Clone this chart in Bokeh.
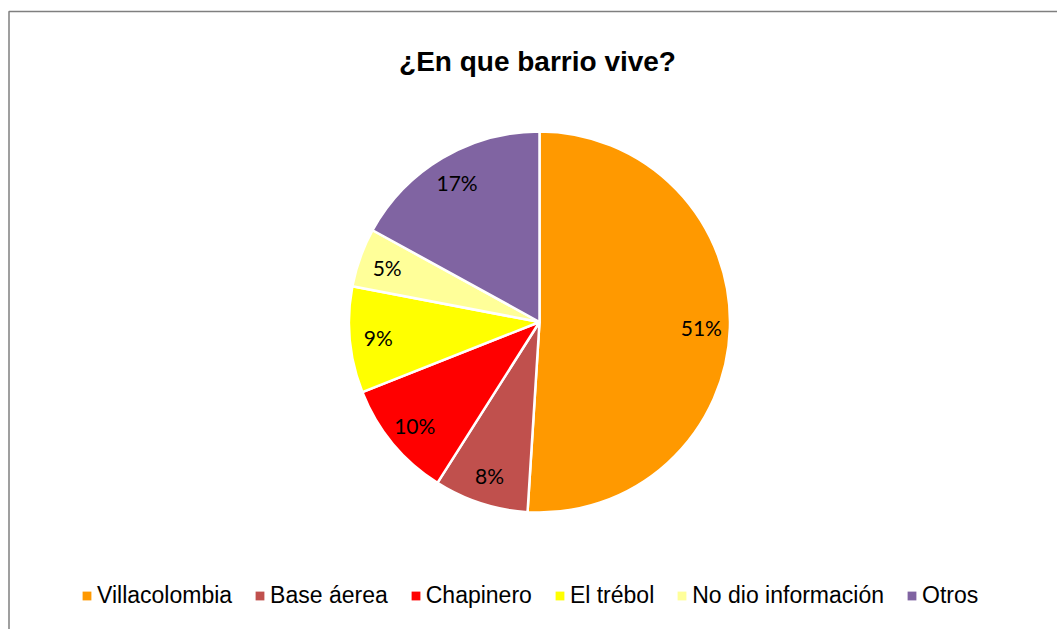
import numpy as np
from bokeh.plotting import figure
from bokeh.models import Range1d, ColumnDataSource, Legend, LegendItem
from bokeh.core.properties import value
from bokeh.embed import file_html
from bokeh.resources import INLINE

# ---- data ----
categories = ["Villacolombia", "Base áerea", "Chapinero", "El trébol", "No dio información", "Otros"]
percent = [51, 8, 10, 9, 5, 17]
colors = ["#FF9900", "#C0504D", "#FF0000", "#FFFF00", "#FFFF99", "#8064A2"]
title_text = "¿En que barrio vive?"

W, H = 1057, 629
p = figure(width=W, height=H, x_range=Range1d(0, W), y_range=Range1d(0, H),
           output_backend="svg", toolbar_location=None,
           x_axis_type=None, y_axis_type=None, min_border=0,
           outline_line_color=None)
p.grid.visible = False
p.background_fill_color = "white"
p.border_fill_color = "white"

# chart frame (only top and left edges fall inside the window)
p.line(x=[8.5, 8.5, W + 5], y=[-5, H - 11, H - 11], line_color="#7F7F7F", line_width=1.5)

# pie
cx, cy, R = 539, 307.5, 190.5
vals = np.array(percent, dtype=float)
frac = vals / vals.sum()
cum_end = np.cumsum(frac)
cum_start = cum_end - frac
start = np.pi / 2 - 2 * np.pi * cum_end
end = np.pi / 2 - 2 * np.pi * cum_start
mid = (start + end) / 2

src = ColumnDataSource(dict(cat=categories, val=vals, color=colors,
                            start=start, end=end))
p.wedge(x=cx, y=cy, radius=R, start_angle="start", end_angle="end",
        fill_color="color", line_color="white", line_width=2.5, source=src)

# data labels
lr = 0.85 * R
lab = ColumnDataSource(dict(x=cx + lr * np.cos(mid), y=cy + lr * np.sin(mid),
                            t=[f"{int(v)}%" for v in percent]))
p.text(x="x", y="y", text="t", source=lab, text_align="center", text_baseline="middle",
       text_font=value("Lato"), text_font_size="21px", text_color="black")

# title
p.text(x=[537], y=[H - 61], text=[title_text], text_align="center", text_baseline="alphabetic",
       text_font=value("Liberation Sans"), text_font_style="bold",
       text_font_size="28px", text_color="black")

# legend handles (square swatches, not drawn in the plot)
nan = [np.nan] * len(categories)
hsrc = ColumnDataSource(dict(l=nan, r=nan, t=nan, b=nan, color=colors))
handle = p.quad(left="l", right="r", top="t", bottom="b", fill_color="color",
                line_color=None, source=hsrc)

legend = Legend(items=[LegendItem(label=c, renderers=[handle], index=i) for i, c in enumerate(categories)],
                orientation="horizontal", location=(81, 20), padding=0, margin=0,
                spacing=22, label_standoff=5, glyph_width=11, glyph_height=11,
                label_height=24, label_text_font="Liberation Sans",
                label_text_font_size="23px", label_text_color="black",
                border_line_color=None, background_fill_alpha=0)
p.add_layout(legend, "center")

open("out.html", "w").write(file_html(p, INLINE))
